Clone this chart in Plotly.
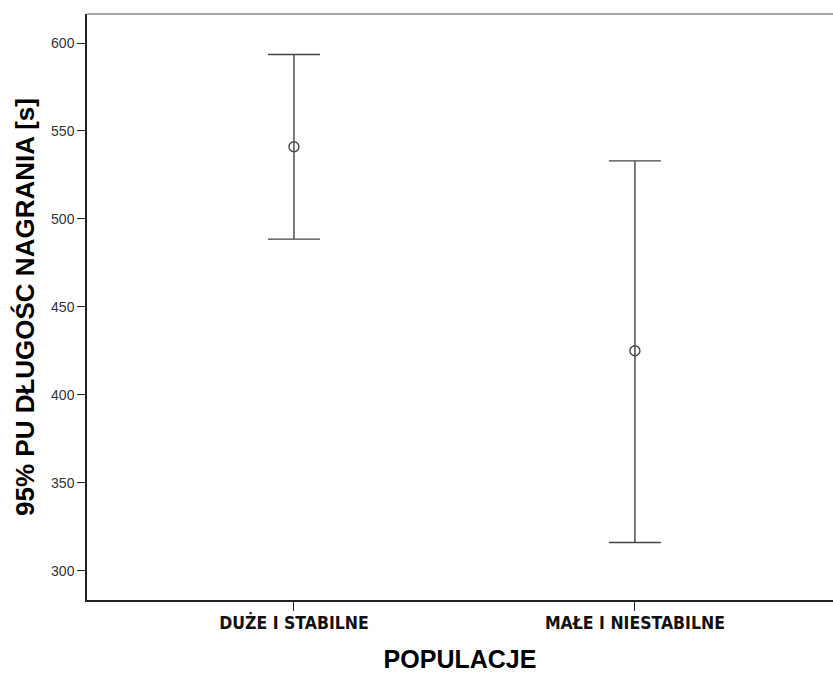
import plotly.graph_objects as go

categories = ["DUŻE I STABILNE", "MAŁE I NIESTABILNE"]
means = [541.0, 425.0]
upper = [593.5, 533.0]
lower = [488.5, 316.0]
y_ticks = [300, 350, 400, 450, 500, 550, 600]

err_plus = [u - m for u, m in zip(upper, means)]
err_minus = [m - l for m, l in zip(means, lower)]

fig = go.Figure()
fig.add_trace(go.Scatter(
    x=[0, 1], y=means, mode="markers",
    marker=dict(symbol="circle-open", size=10, color="#444444", line=dict(width=1.4)),
    error_y=dict(type="data", symmetric=False, array=err_plus, arrayminus=err_minus,
                 color="#444444", thickness=1.4, width=26),
    showlegend=False, hoverinfo="skip",
))

fig.update_layout(
    width=833, height=673,
    margin=dict(l=87, r=0, t=14, b=73),
    paper_bgcolor="white", plot_bgcolor="white",
    font=dict(family="Liberation Sans, Arial, sans-serif", color="#000000"),
    xaxis=dict(
        range=[-0.607, 1.581], tickmode="array", tickvals=[0, 1], ticktext=categories,
        showgrid=False, zeroline=False, showline=True, linecolor="#222222", linewidth=1.5,
        ticks="outside", ticklen=9, tickwidth=1.3, tickcolor="#222222",
        ticklabelstandoff=-3,
        tickfont=dict(family="Liberation Sans Narrow, DejaVu Sans Condensed, Arial Narrow, sans-serif",
                      size=17.5, color="#111111", weight="bold"),
        title=dict(text="<b>POPULACJE</b>", font=dict(size=25, color="#000000"), standoff=22),
        automargin=False,
    ),
    yaxis=dict(
        range=[283.3, 616.5], tickmode="array", tickvals=y_ticks,
        showgrid=False, zeroline=False, showline=True, linecolor="#222222", linewidth=1.5,
        ticks="outside", ticklen=8, tickwidth=1.3, tickcolor="#222222",
        tickfont=dict(size=14, color="#333333"),
        title=dict(text="<b>95% PU DŁUGOŚC NAGRANIA [s]</b>", font=dict(size=26, color="#000000"), standoff=9),
        automargin=False,
    ),
    shapes=[dict(type="line", xref="paper", yref="paper", x0=0, x1=1, y0=1, y1=1,
                 line=dict(color="#a8a8a8", width=2))],
)

fig.write_html("out.html", config={"displayModeBar": False},
               post_script="document.body.style.margin='0';")
